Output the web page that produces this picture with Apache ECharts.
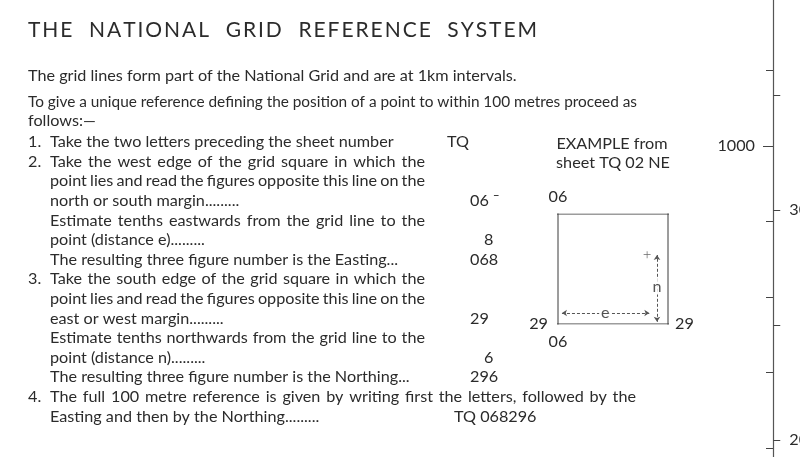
<!DOCTYPE html>
<html>
<head>
<meta charset="utf-8">
<script src="https://cdn.jsdelivr.net/npm/echarts@6/dist/echarts.min.js"></script>
<style>
  html, body { margin: 0; background: #fff; }
  #main { width: 800px; height: 457px; }
</style>
</head>
<body>
<div id="main"></div>
<script>
// ---- text of the sheet ----
var titleText = 'THE  NATIONAL  GRID  REFERENCE  SYSTEM';
var introLines = [
  'The grid lines form part of the National Grid and are at 1km intervals.',
  'To give a unique reference defining the position of a point to within 100 metres proceed as',
  'follows:\u2014'
];
var stepNums = ['1.', '2.', '', '', '', '', '', '3.', '', '', '', '', '', '4.', ''];
var stepLines = [
  'Take the two letters preceding the sheet number',
  'Take the west edge of the grid square in which the',
  'point lies and read the figures opposite this line on the',
  'north or south margin.........',
  'Estimate tenths eastwards from the grid line to the',
  'point (distance e).........',
  'The resulting three figure number is the Easting...',
  'Take the south edge of the grid square in which the',
  'point lies and read the figures opposite this line on the',
  'east or west margin.........',
  'Estimate tenths northwards from the grid line to the',
  'point (distance n).........',
  'The resulting three figure number is the Northing...',
  'The full 100 metre reference is given by writing first the letters, followed by the',
  'Easting and then by the Northing.........'
];
var stepAnswers = ['TQ', '', '', '06 \u02c9', '', '8', '068', '', '', '29', '', '6', '296', '', 'TQ 068296'];
var exampleLines = ['EXAMPLE from', 'sheet TQ 02 NE'];

// ---- example grid square, in square units (0..1) ----
var eastingLabel = '06';
var northingLabel = '29';
var squareLines = [
  [[-0.045, 1], [1.05, 1]],
  [[-0.045, 0], [1.05, 0]],
  [[0, -0.055], [0, 1.036]],
  [[1, -0.055], [1, 1.036]]
];
var eArrow = [[0.036, 0.1], [0.83, 0.1]];
var nArrow = [[0.9, 0.02], [0.9, 0.627]];
var arrowLabels = [[0.43, 0.1, 'e'], [0.9, 0.34, 'n']];
var point = [[0.81, 0.63]];

// ---- margin scale ----
var heightTicks = [600, 700, 800, 900, 1000, 1100];
var heightLabels = [1000];
var gridTicks = [20, 25, 30, 35];
var gridLabels = [20, 30];

// layout
var INK = '#2b2b2b';
var FAMILY = 'Lato';
var rowY0 = 142, rowStep = 19.6;
var justifyTo = { 1: 425, 2: 425, 4: 425, 7: 425, 8: 425, 10: 425, 13: 636 };
var answerX = [447, 0, 0, 470, 0, 484, 470, 0, 0, 470, 0, 484, 470, 0, 454];

var ctx = document.createElement('canvas').getContext('2d');
function measure(s, size) {
  ctx.font = size + 'px ' + FAMILY;
  return ctx.measureText(s).width;
}
function txt(s, x, y, size, align) {
  return {
    type: 'text', x: x, y: y, silent: true,
    style: {
      text: s, font: size + 'px ' + FAMILY, fill: INK,
      textAlign: align || 'left', align: align || 'left',
      textVerticalAlign: 'middle', verticalAlign: 'middle'
    }
  };
}
// spread pieces (words or letters) over a given width
function spread(pieces, x, y, width, size) {
  var out = [];
  var ws = pieces.map(function (p) { return measure(p, size); });
  var total = ws.reduce(function (a, b) { return a + b; }, 0);
  var gap = (width - total) / (pieces.length - 1);
  var cx = x;
  pieces.forEach(function (p, i) {
    if (p !== ' ') out.push(txt(p, cx, y, size));
    cx += ws[i] + gap;
  });
  return out;
}

var bodySize = 14 * (517 - 28) / measure(introLines[0], 14);
var elements = [];
elements = elements.concat(spread(titleText.split(''), 28, 30, 509, 21));
elements.push(txt(introLines[0], 28, 76, bodySize));
elements = elements.concat(spread(introLines[1].split(' '), 28, 102, 637 - 28, bodySize * 0.95));
elements.push(txt(introLines[2], 28, 121, bodySize));
stepLines.forEach(function (line, i) {
  var y = rowY0 + i * rowStep;
  if (stepNums[i]) elements.push(txt(stepNums[i], 28, y, bodySize));
  if (justifyTo[i]) {
    elements = elements.concat(spread(line.split(' '), 50, y, justifyTo[i] - 50, bodySize));
  } else {
    elements.push(txt(line, 50, y, bodySize));
  }
  if (stepAnswers[i]) elements.push(txt(stepAnswers[i], answerX[i], y, bodySize));
});
elements.push(txt(exampleLines[0], 612, 144, bodySize, 'center'));
elements.push(txt(exampleLines[1], 613, 163, bodySize, 'center'));

var chart = echarts.init(document.getElementById('main'));
function squareAxis(extra) {
  return Object.assign({
    gridIndex: 1, type: 'value', min: 0, max: 1,
    axisLine: { show: false }, axisTick: { show: false }, splitLine: { show: false }
  }, extra);
}
var labelStyle = { color: INK, fontFamily: FAMILY, fontSize: bodySize };
function plain(v) { return String(v); }

chart.setOption({
  animation: false,
  backgroundColor: '#fff',
  grid: [
    { left: 773, top: 0, width: 1, height: 457 },
    { left: 558, top: 214, width: 110, height: 110 }
  ],
  xAxis: [
    { gridIndex: 0, type: 'value', show: false },
    squareAxis({ position: 'bottom', axisLabel: Object.assign({ customValues: [0], margin: 10, formatter: function () { return eastingLabel; } }, labelStyle) }),
    squareAxis({ position: 'top', axisLabel: Object.assign({ customValues: [0], margin: 9, formatter: function () { return eastingLabel; } }, labelStyle) })
  ],
  yAxis: [
    {
      gridIndex: 0, type: 'value', position: 'left', min: 588.1, max: 1193.4,
      axisLine: { show: true, lineStyle: { color: '#555', width: 1.2 } },
      axisTick: { show: true, customValues: heightTicks, length: 7, lineStyle: { color: '#444' } },
      axisLabel: Object.assign({ customValues: heightLabels, margin: 18, formatter: plain }, labelStyle),
      splitLine: { show: false }
    },
    {
      gridIndex: 0, type: 'value', position: 'left', min: 588.1, max: 1193.4,
      axisLine: { show: false },
      axisTick: { show: true, customValues: heightLabels, length: 10, lineStyle: { color: '#444' } },
      axisLabel: { show: false },
      splitLine: { show: false }
    },
    {
      gridIndex: 0, type: 'value', position: 'right', min: 19.26, max: 39.13,
      axisLine: { show: false },
      axisTick: { show: true, customValues: gridTicks, length: 7, lineStyle: { color: '#444' } },
      axisLabel: Object.assign({ customValues: gridLabels, margin: 16, formatter: plain }, labelStyle),
      splitLine: { show: false }
    },
    squareAxis({ position: 'left', axisLabel: Object.assign({ customValues: [0], margin: 10, formatter: function () { return northingLabel; } }, labelStyle) }),
    squareAxis({ position: 'right', axisLabel: Object.assign({ customValues: [0], margin: 7, formatter: function () { return northingLabel; } }, labelStyle) })
  ],
  series: squareLines.map(function (seg) {
    return {
      type: 'line', xAxisIndex: 1, yAxisIndex: 3, data: seg, symbol: 'none',
      lineStyle: { color: '#3a3a3a', width: 1 }, silent: true
    };
  }).concat([
    {
      type: 'lines', coordinateSystem: 'cartesian2d', xAxisIndex: 1, yAxisIndex: 3,
      symbol: ['arrow', 'arrow'], symbolSize: 5, z: 2,
      lineStyle: { color: '#555', width: 1, type: [3, 2], opacity: 1 },
      data: [{ coords: eArrow }, { coords: nArrow }]
    },
    {
      type: 'scatter', xAxisIndex: 1, yAxisIndex: 3, symbolSize: 1, z: 3,
      itemStyle: { color: 'rgba(0,0,0,0)' },
      label: {
        show: true, position: 'inside', backgroundColor: '#fff', padding: [0, 2],
        color: INK, fontFamily: FAMILY, fontSize: bodySize,
        formatter: function (p) { return p.value[2]; }
      },
      data: arrowLabels
    },
    {
      type: 'scatter', xAxisIndex: 1, yAxisIndex: 3, z: 3,
      symbol: 'path://M0,4.5H10V5.5H0Z M4.5,0H5.5V10H4.5Z', symbolSize: 7,
      itemStyle: { color: '#444' },
      data: point
    }
  ]),
  graphic: elements
});
</script>
</body>
</html>
